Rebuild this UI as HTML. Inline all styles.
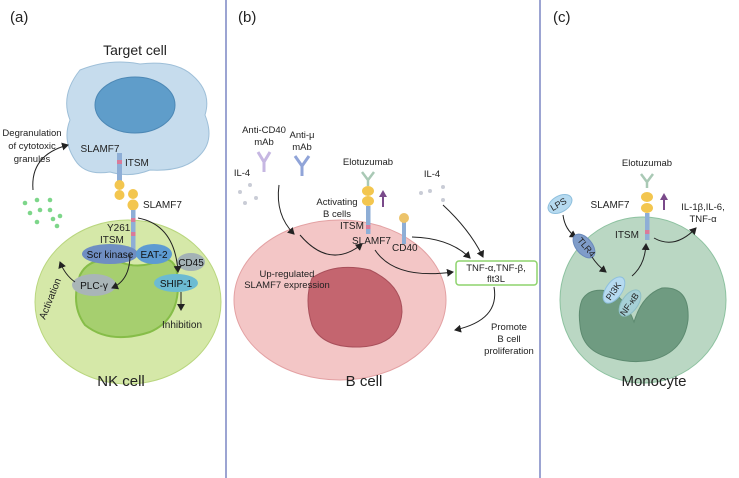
<!DOCTYPE html>
<html><head><meta charset="utf-8"><style>
body{margin:0;background:#fff}
svg{display:block;font-family:"Liberation Sans",sans-serif}
</style></head><body>
<svg width="739" height="478" viewBox="0 0 739 478" xmlns="http://www.w3.org/2000/svg">
<defs>
<marker id="ah" markerWidth="8" markerHeight="8" refX="6" refY="4" orient="auto" markerUnits="userSpaceOnUse"><path d="M0,0 L7,4 L0,8 Z" fill="#222"/></marker>
<marker id="ap" markerWidth="8" markerHeight="8" refX="4" refY="4" orient="auto" markerUnits="userSpaceOnUse"><path d="M0,0 L7,4 L0,8 Z" fill="#7a4a8a"/></marker>
</defs>
<line x1="226" y1="0" x2="226" y2="478" stroke="#7b86c4" stroke-width="1.5"/>
<line x1="540" y1="0" x2="540" y2="478" stroke="#7b86c4" stroke-width="1.5"/>

<!-- Panel a -->
<text x="10" y="22" font-size="15" fill="#222">(a)</text>
<text x="135" y="55" font-size="14" text-anchor="middle" fill="#222">Target cell</text>
<path d="M80,70 Q110,58 140,64 Q175,60 192,75 Q212,92 205,115 Q215,140 200,155 Q185,172 150,170 Q130,178 110,172 Q85,176 75,160 Q62,140 70,120 Q60,95 80,70Z" fill="#c6dced" stroke="#9ebfd8"/>
<ellipse cx="135" cy="105" rx="40" ry="28" fill="#5f9dca" stroke="#4d88b5"/>
<text x="100" y="152" font-size="10" text-anchor="middle" fill="#222">SLAMF7</text>
<text x="125" y="166" font-size="10" fill="#222">ITSM</text>
<rect x="117" y="153" width="5" height="28" fill="#8eaed6"/>
<rect x="117" y="160" width="5" height="4" fill="#d97a9a"/>
<circle cx="119.5" cy="185" r="5" fill="#f3c64f"/><circle cx="119.5" cy="195" r="5" fill="#f3c64f"/>
<circle cx="133" cy="194" r="5" fill="#f3c64f"/><circle cx="133" cy="205" r="5.5" fill="#f3c64f"/>
<text x="143" y="208" font-size="10" fill="#222">SLAMF7</text>
<text x="32" y="136" font-size="9.5" text-anchor="middle" fill="#222">Degranulation</text>
<text x="32" y="149" font-size="9.5" text-anchor="middle" fill="#222">of cytotoxic</text>
<text x="32" y="162" font-size="9.5" text-anchor="middle" fill="#222">granules</text>
<path d="M33,190 Q30,155 68,145" fill="none" stroke="#222" marker-end="url(#ah)"/>
<ellipse cx="128" cy="302" rx="93" ry="82" fill="#d5e8a8" stroke="#b9d67e"/>
<path d="M80,275 Q90,255 120,262 Q140,270 160,260 Q178,255 178,285 Q178,320 150,332 Q110,345 85,325 Q70,305 80,275Z" fill="#a6cf6f" stroke="#86bd48" stroke-width="2"/>
<rect x="131" y="210" width="4.5" height="42" fill="#8eaed6"/>
<rect x="131" y="218" width="4.5" height="4" fill="#d97a9a"/><rect x="131" y="232" width="4.5" height="4" fill="#d97a9a"/>
<text x="107" y="231" font-size="10" fill="#222">Y261</text>
<text x="100" y="243" font-size="10" fill="#222">ITSM</text>
<ellipse cx="110" cy="254" rx="28" ry="10" fill="#6f8ec2"/>
<text x="110" y="258" font-size="10" text-anchor="middle" fill="#111">Scr kinase</text>
<ellipse cx="154" cy="254" rx="18" ry="10" fill="#5d9bd2"/>
<text x="154" y="258" font-size="10" text-anchor="middle" fill="#111">EAT-2</text>
<ellipse cx="191" cy="262" rx="14" ry="9" fill="#a3b2b5"/>
<text x="191" y="266" font-size="10" text-anchor="middle" fill="#111">CD45</text>
<ellipse cx="176" cy="283" rx="22" ry="9" fill="#6cbbd2"/>
<text x="176" y="287" font-size="10" text-anchor="middle" fill="#111">SHIP-1</text>
<ellipse cx="94" cy="285" rx="22" ry="11" fill="#a9b5b7"/>
<text x="94" y="289" font-size="10" text-anchor="middle" fill="#111">PLC-γ</text>
<path d="M130,255 Q130,280 112,288" fill="none" stroke="#222" marker-end="url(#ah)"/>
<path d="M138,218 Q175,225 178,272" fill="none" stroke="#222" marker-end="url(#ah)"/>
<line x1="181" y1="292" x2="181" y2="310" stroke="#222" marker-end="url(#ah)"/>
<text x="182" y="328" font-size="10" text-anchor="middle" fill="#222">Inhibition</text>
<path d="M75,282 Q65,275 60,262" fill="none" stroke="#222" marker-end="url(#ah)"/>
<text transform="translate(45,320) rotate(-68)" font-size="10" fill="#222">Activation</text>
<g fill="#7dd68a"><circle cx="25" cy="203" r="2.3"/><circle cx="37" cy="200" r="2.3"/><circle cx="50" cy="200" r="2.3"/><circle cx="30" cy="213" r="2.3"/><circle cx="40" cy="210" r="2.3"/><circle cx="50" cy="210" r="2.3"/><circle cx="37" cy="222" r="2.3"/><circle cx="53" cy="219" r="2.3"/><circle cx="60" cy="216" r="2.3"/><circle cx="57" cy="226" r="2.3"/></g>
<text x="121" y="386" font-size="15" text-anchor="middle" fill="#222">NK cell</text>

<!-- Panel b -->
<text x="238" y="22" font-size="15" fill="#222">(b)</text>
<ellipse cx="340" cy="300" rx="106" ry="80" fill="#f3c6c6" stroke="#e3a1a3"/>
<path d="M312,278 Q335,262 370,270 Q402,285 402,312 Q400,345 360,347 Q322,348 312,325 Q304,300 312,278Z" fill="#c4656f" stroke="#a84f5a"/>
<text x="264" y="133" font-size="9.5" text-anchor="middle" fill="#222">Anti-CD40</text>
<text x="264" y="145" font-size="9.5" text-anchor="middle" fill="#222">mAb</text>
<text x="302" y="138" font-size="9.5" text-anchor="middle" fill="#222">Anti-μ</text>
<text x="302" y="150" font-size="9.5" text-anchor="middle" fill="#222">mAb</text>
<path d="M258,152 L264,162 L270,152 M264,162 L264,172" fill="none" stroke="#c6b7e2" stroke-width="3"/>
<path d="M295,156 L302,166 L309,156 M302,166 L302,176" fill="none" stroke="#90a4d8" stroke-width="3"/>
<text x="242" y="176" font-size="9.5" text-anchor="middle" fill="#222">IL-4</text>
<g fill="#c9ccd6"><circle cx="240" cy="192" r="2"/><circle cx="250" cy="185" r="2"/><circle cx="245" cy="203" r="2"/><circle cx="256" cy="198" r="2"/><circle cx="421" cy="193" r="2"/><circle cx="430" cy="191" r="2"/><circle cx="443" cy="187" r="2"/><circle cx="443" cy="200" r="2"/></g>
<text x="432" y="177" font-size="9.5" text-anchor="middle" fill="#222">IL-4</text>
<text x="368" y="165" font-size="9.5" text-anchor="middle" fill="#222">Elotuzumab</text>
<path d="M362,172 L368,180 L374,172 M368,180 L368,186" fill="none" stroke="#a9c9b5" stroke-width="2.5"/>
<ellipse cx="368" cy="191" rx="6" ry="5" fill="#f3c64f"/><ellipse cx="368" cy="201" rx="6" ry="5" fill="#f3c64f"/>
<rect x="366" y="206" width="4.5" height="28" fill="#8eaed6"/><rect x="366" y="225" width="4.5" height="4" fill="#d97a9a"/>
<line x1="383" y1="207" x2="383" y2="193" stroke="#7a4a8a" stroke-width="2" marker-end="url(#ap)"/>
<text x="352" y="229" font-size="10" text-anchor="middle" fill="#222">ITSM</text>
<text x="352" y="244" font-size="10" fill="#222">SLAMF7</text>
<text x="392" y="251" font-size="10" fill="#222">CD40</text>
<rect x="402" y="222" width="4" height="22" fill="#8eaed6"/><circle cx="404" cy="218" r="5" fill="#ecc36a"/>
<text x="337" y="205" font-size="9.5" text-anchor="middle" fill="#222">Activating</text>
<text x="337" y="217" font-size="9.5" text-anchor="middle" fill="#222">B cells</text>
<path d="M279,185 Q275,215 294,234" fill="none" stroke="#222" marker-end="url(#ah)"/>
<path d="M300,235 Q330,270 362,244" fill="none" stroke="#222" marker-end="url(#ah)"/>
<path d="M375,250 Q395,280 453,272" fill="none" stroke="#222" marker-end="url(#ah)"/>
<path d="M412,237 Q450,238 470,258" fill="none" stroke="#222" marker-end="url(#ah)"/>
<path d="M443,205 Q470,230 483,257" fill="none" stroke="#222" marker-end="url(#ah)"/>
<text x="287" y="277" font-size="9.5" text-anchor="middle" fill="#222">Up-regulated</text>
<text x="287" y="288" font-size="9.5" text-anchor="middle" fill="#222">SLAMF7 expression</text>
<rect x="456" y="261" width="81" height="24" rx="3" fill="#fff" stroke="#8ed36d" stroke-width="1.5"/>
<text x="496" y="271" font-size="9.5" text-anchor="middle" fill="#222">TNF-α,TNF-β,</text>
<text x="496" y="282" font-size="9.5" text-anchor="middle" fill="#222">flt3L</text>
<path d="M494,287 Q500,320 455,330" fill="none" stroke="#222" marker-end="url(#ah)"/>
<text x="509" y="330" font-size="9.5" text-anchor="middle" fill="#222">Promote</text>
<text x="509" y="342" font-size="9.5" text-anchor="middle" fill="#222">B cell</text>
<text x="509" y="354" font-size="9.5" text-anchor="middle" fill="#222">proliferation</text>
<text x="364" y="386" font-size="15" text-anchor="middle" fill="#222">B cell</text>

<!-- Panel c -->
<text x="553" y="22" font-size="15" fill="#222">(c)</text>
<circle cx="643" cy="300" r="83" fill="#bad7c3" stroke="#8dc2a0"/>
<path d="M582,300 Q590,286 612,292 Q626,300 634,322 Q642,295 662,288 Q690,286 688,320 Q684,352 652,360 Q632,364 612,358 Q582,352 580,325 Q578,310 582,300Z" fill="#6f9b81" stroke="#5d8a70"/>
<text x="647" y="166" font-size="9.5" text-anchor="middle" fill="#222">Elotuzumab</text>
<path d="M641,174 L647,182 L653,174 M647,182 L647,188" fill="none" stroke="#a9c9b5" stroke-width="2.5"/>
<ellipse cx="647" cy="197" rx="6" ry="5" fill="#f3c64f"/><ellipse cx="647" cy="208" rx="6" ry="5" fill="#f3c64f"/>
<rect x="645" y="213" width="4.5" height="27" fill="#8eaed6"/><rect x="645" y="230" width="4.5" height="4" fill="#d97a9a"/>
<line x1="664" y1="210" x2="664" y2="196" stroke="#7a4a8a" stroke-width="2" marker-end="url(#ap)"/>
<text x="610" y="208" font-size="10" text-anchor="middle" fill="#222">SLAMF7</text>
<text x="627" y="238" font-size="10" text-anchor="middle" fill="#222">ITSM</text>
<text x="703" y="210" font-size="9.5" text-anchor="middle" fill="#222">IL-1β,IL-6,</text>
<text x="703" y="222" font-size="9.5" text-anchor="middle" fill="#222">TNF-α</text>
<path d="M654,238 Q675,250 696,228" fill="none" stroke="#222" marker-end="url(#ah)"/>
<ellipse cx="560" cy="204" rx="13" ry="8" transform="rotate(-30 560 204)" fill="#b6daf0" stroke="#8ebfdd"/>
<text transform="translate(560,207) rotate(-30)" font-size="9" text-anchor="middle" fill="#222">LPS</text>
<path d="M563,215 Q565,230 576,237" fill="none" stroke="#222" marker-end="url(#ah)"/>
<ellipse cx="584" cy="246" rx="14" ry="8" transform="rotate(50 584 246)" fill="#7f9cc9" stroke="#6a89bb"/>
<text transform="translate(584,249) rotate(50)" font-size="9" text-anchor="middle" fill="#222">TLR4</text>
<path d="M592,257 Q597,265 606,272" fill="none" stroke="#222" marker-end="url(#ah)"/>
<ellipse cx="614" cy="290" rx="15" ry="8" transform="rotate(-55 614 290)" fill="#b6daf0" stroke="#8ebfdd"/>
<text transform="translate(616,293) rotate(-55)" font-size="9" text-anchor="middle" fill="#222">PI3K</text>
<ellipse cx="630" cy="303" rx="15" ry="8" transform="rotate(-55 630 303)" fill="#a6d0d6" stroke="#8ebfc6"/>
<text transform="translate(632,306) rotate(-55)" font-size="9" text-anchor="middle" fill="#222">NF-κB</text>
<path d="M632,276 Q645,265 646,244" fill="none" stroke="#222" marker-end="url(#ah)"/>
<text x="654" y="386" font-size="15" text-anchor="middle" fill="#222">Monocyte</text>
</svg>
</body></html>
